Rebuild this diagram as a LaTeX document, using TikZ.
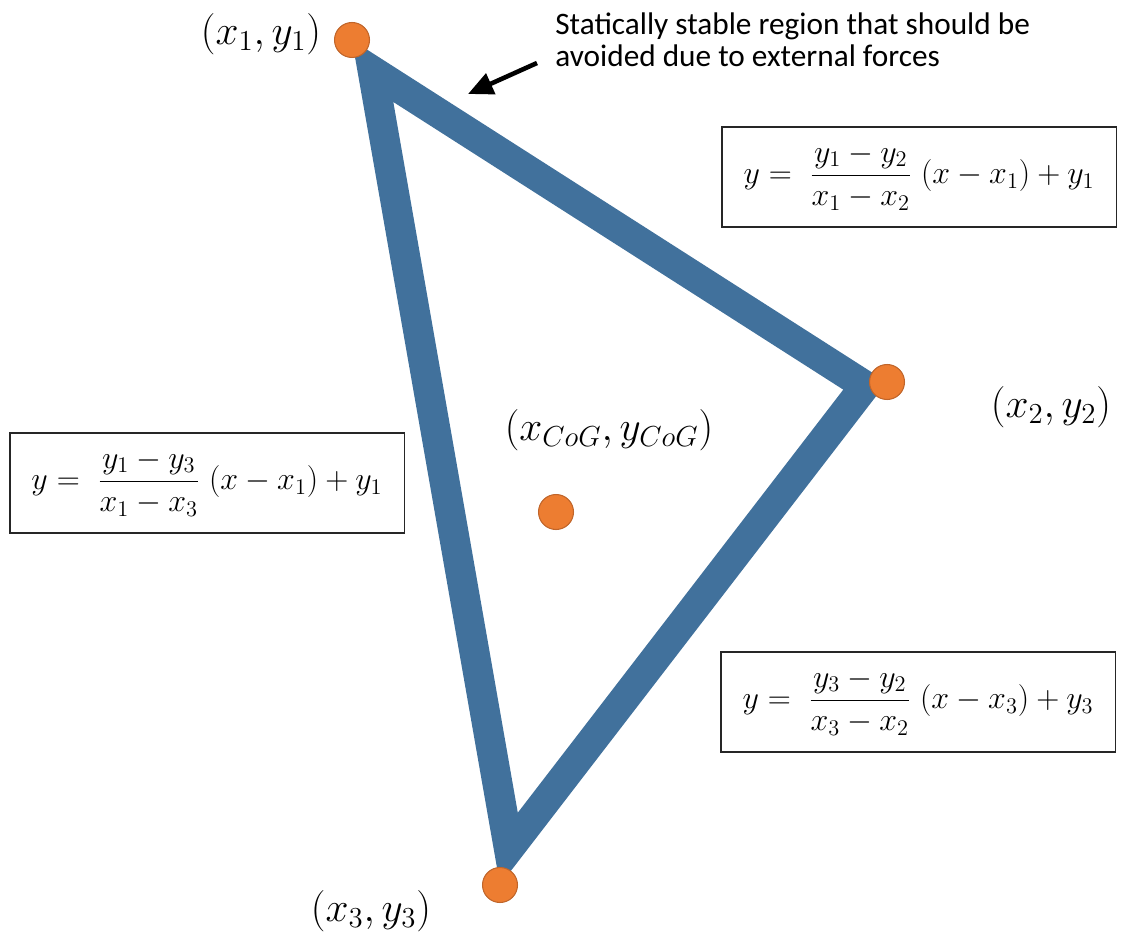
\RequirePackage{fix-cm}
\documentclass[tikz,border=0pt]{standalone}
\usepackage{fontspec}
\usepackage{amsmath}
\usetikzlibrary{arrows.meta}
\newfontfamily\notefont{Carlito}
\definecolor{frame}{HTML}{41719C}
\definecolor{vertex}{HTML}{ED7D31}
\definecolor{vertexedge}{HTML}{C0652A}

\begin{document}
\begin{tikzpicture}[x=0.02cm, y=-0.02cm,
  dot/.style={circle, fill=vertex, draw=vertexedge, line width=0.6pt,
    minimum size=0.7cm, inner sep=0pt},
  ptlabel/.style={font=\fontsize{23.5}{27}\selectfont, inner sep=0pt},
  eqbox/.style={draw=black!85, line width=1.1pt, minimum width=7.9cm,
    minimum height=2cm, font=\fontsize{18.2}{22}\selectfont}]

  \useasboundingbox (0,0) rectangle (1121,935);

  % corners of the support triangle
  \coordinate (p1) at (352,40);
  \coordinate (p2) at (887,382);
  \coordinate (p3) at (500,885);

  % thick frame, kept inside the triangle
  \begin{scope}
    \clip (p1) -- (p2) -- (p3) -- cycle;
    \draw[frame, line width=1.2cm, line join=miter] (p1) -- (p2) -- (p3) -- cycle;
  \end{scope}

  % corner and centre of gravity dots
  \node[dot] (v1) at (p1) {};
  \node[dot] (v2) at (p2) {};
  \node[dot] (v3) at (p3) {};
  \node[dot] (cog) at (556,512) {};

  % point labels
  \node[ptlabel] (l1) at (261,34) {$(x_1, y_1)$};
  \node[ptlabel] (l2) at (1051,407) {$(x_2, y_2)$};
  \node[ptlabel] (l3) at (371,911) {$(x_3, y_3)$};
  \node[ptlabel] (lcog) at (609,430) {$(x_{CoG}, y_{CoG})$};

  % note with arrow
  \node[font={\notefont\fontsize{17.8}{18.2}\selectfont}, align=left,
    anchor=north west, inner sep=0pt] (note) at (555,12)
    {Statically stable region that should be\\avoided due to external forces};
  \coordinate (tail) at (537,63);
  \coordinate (tip) at (468,94);
  \draw[-{Triangle[length=5mm, width=4.4mm]}, line width=2.6pt] (tail) -- (tip);

  % edge equations
  \node[eqbox] (eq12) at (919,177)
    {$y = \;\dfrac{y_1 - y_2}{x_1 - x_2}\;(x - x_1) + y_1$};
  \node[eqbox] (eq13) at (207,483)
    {$y = \;\dfrac{y_1 - y_3}{x_1 - x_3}\;(x - x_1) + y_1$};
  \node[eqbox] (eq32) at (918,702)
    {$y = \;\dfrac{y_3 - y_2}{x_3 - x_2}\;(x - x_3) + y_3$};

\end{tikzpicture}
\end{document}
